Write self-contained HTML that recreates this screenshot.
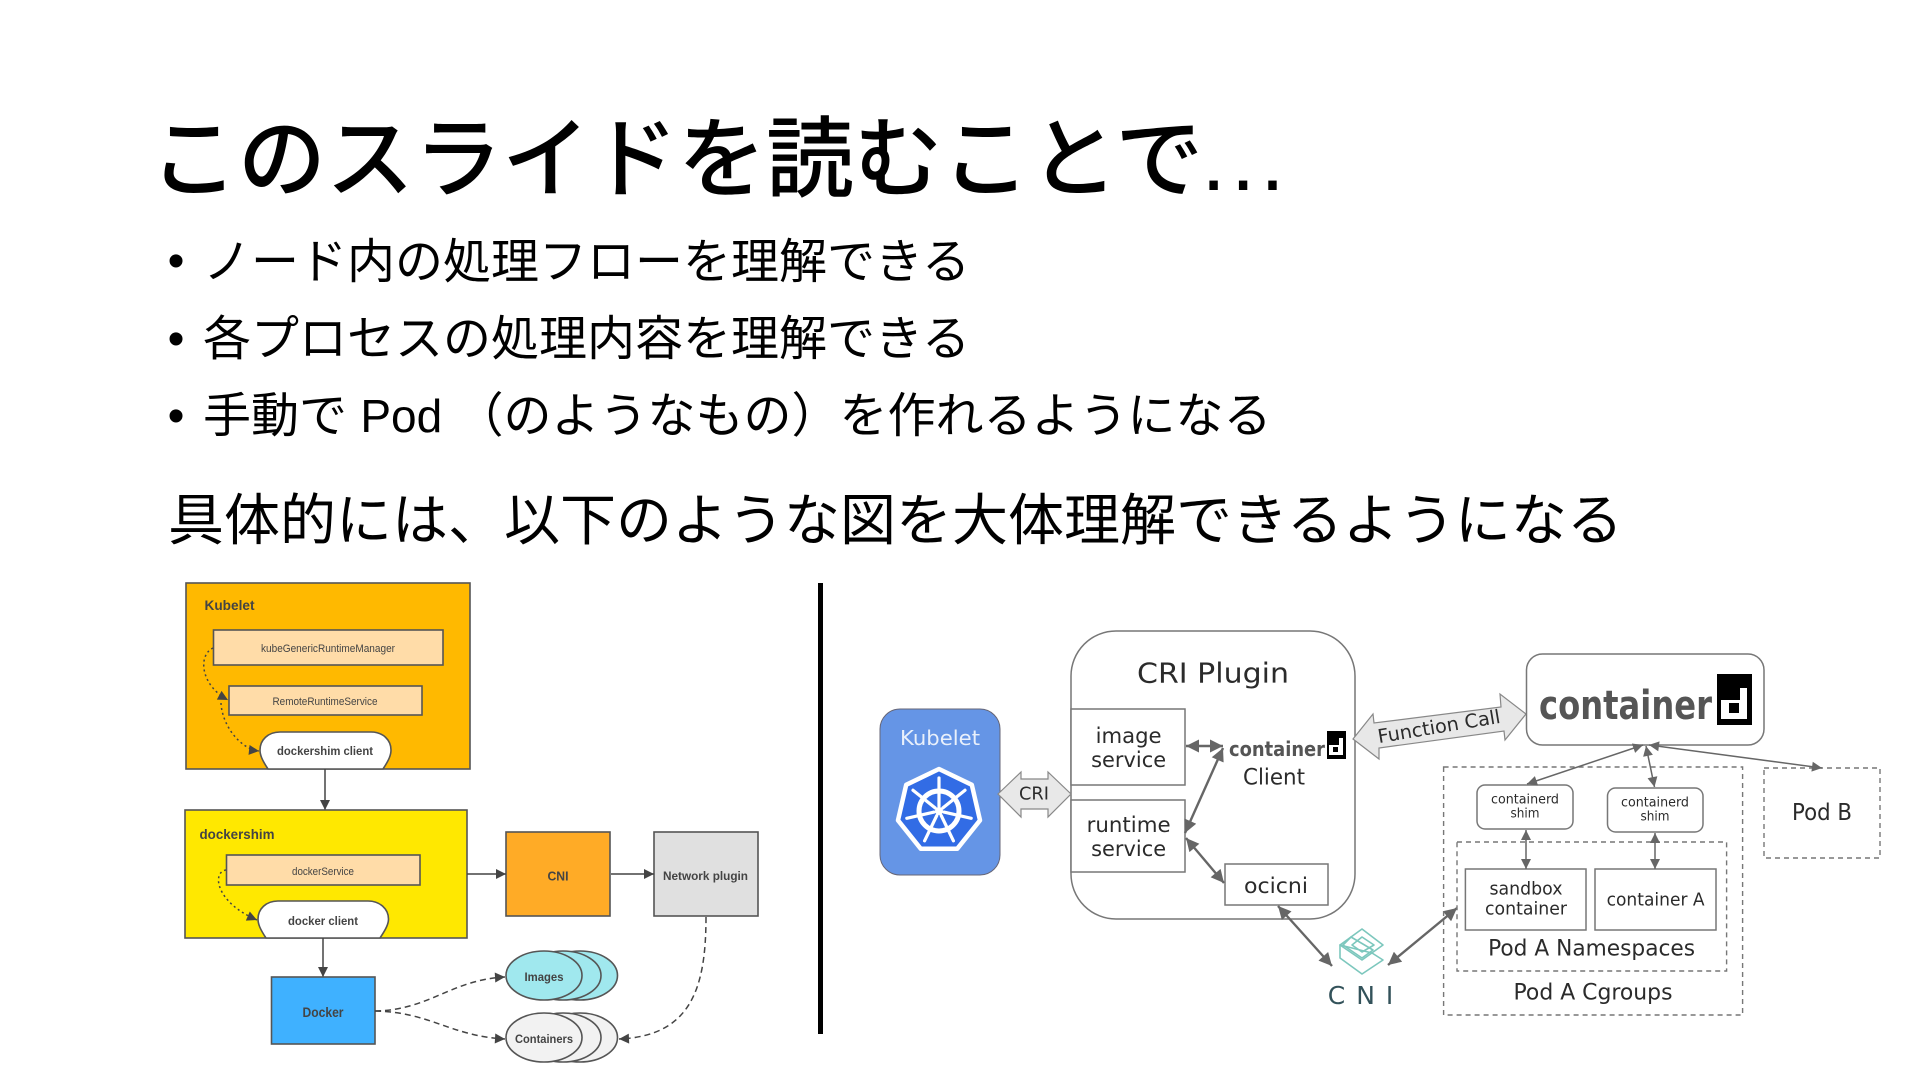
<!DOCTYPE html>
<html lang="ja"><head><meta charset="utf-8"><title>このスライドを読むことで...</title>
<style>
html,body{margin:0;padding:0;background:#fff;width:1920px;height:1080px;overflow:hidden}
svg{display:block}
.jp{font-family:"Liberation Sans","Noto Sans CJK JP",sans-serif;fill:#000}
.l{font-family:"Liberation Sans",sans-serif;font-weight:700;fill:#444;text-anchor:middle;dominant-baseline:central}
.c{font-family:"DejaVu Sans","Liberation Sans",sans-serif;fill:#2b2b2b;text-anchor:middle;dominant-baseline:central}
.b{stroke:#555;stroke-width:1.6}
.g{fill:#fff;stroke:#777;stroke-width:1.5}
.d{fill:none;stroke:#777;stroke-width:1.4;stroke-dasharray:5 4}
.a{fill:none;stroke:#444;stroke-width:1.5}
.ar{fill:none;stroke:#666;stroke-width:2.4}
.thin{fill:none;stroke:#666;stroke-width:1.5}
</style></head><body>
<svg width="1920" height="1080" viewBox="0 0 1920 1080" xmlns="http://www.w3.org/2000/svg">
<defs>
<marker id="m" viewBox="0 0 10 10" refX="10" refY="5" markerUnits="userSpaceOnUse" markerWidth="12" markerHeight="10" orient="auto-start-reverse"><path d="M0 0L10 5L0 10Z" fill="#444"/></marker>
<marker id="g" viewBox="0 0 10 10" refX="10" refY="5" markerUnits="userSpaceOnUse" markerWidth="16" markerHeight="13" orient="auto-start-reverse"><path d="M0 0L10 5L0 10Z" fill="#666"/></marker>
<marker id="t" viewBox="0 0 10 10" refX="10" refY="5" markerUnits="userSpaceOnUse" markerWidth="13" markerHeight="10" orient="auto-start-reverse"><path d="M0 0L10 5L0 10Z" fill="#666"/></marker>
</defs>
<rect width="1920" height="1080" fill="#fff"/>

<!-- headings -->
<text class="jp" x="150" y="190" font-size="88" font-weight="500">このスライドを読むことで<tspan letter-spacing="5" dx="-2">...</tspan></text>
<text x="176" y="277" font-size="48" text-anchor="middle" font-family="Liberation Sans,sans-serif">•</text>
<text x="176" y="355" font-size="48" text-anchor="middle" font-family="Liberation Sans,sans-serif">•</text>
<text x="176" y="432" font-size="48" text-anchor="middle" font-family="Liberation Sans,sans-serif">•</text>
<text class="jp" x="203" y="278" font-size="48">ノード内の処理フローを理解できる</text>
<text class="jp" x="203" y="355" font-size="48">各プロセスの処理内容を理解できる</text>
<text class="jp" x="203" y="432" font-size="48">手動で <tspan font-size="46">Pod</tspan> （のようなもの）を作れるようになる</text>
<text class="jp" x="168" y="540" font-size="56">具体的には、以下のような図を大体理解できるようになる</text>

<!-- left diagram -->
<rect class="b" x="186" y="583" width="284" height="186" fill="#FFB900"/>
<text class="l" x="229.500" y="605" font-size="14" textLength="50" lengthAdjust="spacingAndGlyphs" fill="#5a4300">Kubelet</text>
<rect class="b" x="213.500" y="630" width="229.500" height="35" fill="#FFDCA8"/>
<text class="l" style="font-weight:400" x="328" y="649" font-size="11" textLength="134" lengthAdjust="spacingAndGlyphs">kubeGenericRuntimeManager</text>
<rect class="b" x="229" y="686" width="193" height="29" fill="#FFDCA8"/>
<text class="l" style="font-weight:400" x="325" y="702" font-size="11" textLength="105" lengthAdjust="spacingAndGlyphs">RemoteRuntimeService</text>
<path class="b" fill="#fff" d="M268 769C262 760 260 755 260 750C260 740 268 732 280 732H371C383 732 391 740 391 750C391 755 389 760 383 769Z"/>
<text class="l" x="325" y="751" font-size="12" textLength="96" lengthAdjust="spacingAndGlyphs">dockershim client</text>
<path class="a" stroke-dasharray="2 3" d="M213 648C198 655 200 685 228 700" marker-end="url(#m)"/>
<path class="a" stroke-dasharray="2 3" d="M221 703C222 725 240 749 259 751" marker-end="url(#m)"/>
<path class="a" d="M325 769V810" marker-end="url(#m)"/>

<rect class="b" x="185" y="810" width="282" height="128" fill="#FFE800"/>
<text class="l" x="237" y="834" font-size="14" textLength="75" lengthAdjust="spacingAndGlyphs" fill="#5a4a00">dockershim</text>
<rect class="b" x="226.500" y="855" width="193.500" height="30" fill="#FFDCA8"/>
<text class="l" style="font-weight:400" x="323" y="872" font-size="11" textLength="62" lengthAdjust="spacingAndGlyphs">dockerService</text>
<path class="b" fill="#fff" d="M266 938C260 929 258 924 258 919C258 909 266 901 278 901H368C380 901 388.500 909 388.500 919C388.500 924 386 929 380 938Z"/>
<text class="l" x="323" y="921" font-size="12" textLength="70" lengthAdjust="spacingAndGlyphs">docker client</text>
<path class="a" stroke-dasharray="2 3" d="M226 870C212 872 215 902 257 920" marker-end="url(#m)"/>
<path class="a" d="M323 938V977" marker-end="url(#m)"/>

<rect class="b" x="506" y="832" width="104" height="84" fill="#FFAB26"/>
<text class="l" x="558" y="876" font-size="13" textLength="21" lengthAdjust="spacingAndGlyphs">CNI</text>
<rect class="b" x="654" y="832" width="104" height="84" fill="#E0E0E0"/>
<text class="l" x="705.500" y="876" font-size="12" textLength="85" lengthAdjust="spacingAndGlyphs">Network plugin</text>
<path class="a" d="M467 874H506" marker-end="url(#m)"/>
<path class="a" d="M611 874H654" marker-end="url(#m)"/>

<rect class="b" x="271.500" y="977" width="103.500" height="67" fill="#3FB1FF"/>
<text class="l" x="323" y="1012" font-size="14" textLength="41" lengthAdjust="spacingAndGlyphs" fill="#0f4a78">Docker</text>

<ellipse class="b" cx="580" cy="975.500" rx="37.500" ry="24.500" fill="#A0E8EE"/>
<ellipse class="b" cx="563" cy="975.500" rx="38" ry="24.500" fill="#A0E8EE"/>
<ellipse class="b" cx="544" cy="975.500" rx="38" ry="24.500" fill="#A0E8EE"/>
<text class="l" x="544" y="977" font-size="12" textLength="39" lengthAdjust="spacingAndGlyphs">Images</text>
<ellipse class="b" cx="580" cy="1037.500" rx="37.500" ry="24.500" fill="#F2F2F2"/>
<ellipse class="b" cx="563" cy="1037.500" rx="38" ry="24.500" fill="#F2F2F2"/>
<ellipse class="b" cx="544" cy="1037.500" rx="38" ry="24.500" fill="#F2F2F2"/>
<text class="l" x="544" y="1039" font-size="12" textLength="58" lengthAdjust="spacingAndGlyphs">Containers</text>

<path class="a" stroke-width="1.8" stroke-dasharray="6 4" d="M375 1011C430 1010 450 980 505 977" marker-end="url(#m)"/>
<path class="a" stroke-width="1.8" stroke-dasharray="6 4" d="M375 1011C430 1012 450 1036 505 1039" marker-end="url(#m)"/>
<path class="a" stroke-dasharray="6 4" d="M706 917C706 990 690 1036 619 1039" marker-end="url(#m)"/>

<rect x="818" y="583" width="5" height="451" fill="#000"/>

<!-- right diagram -->
<rect x="880" y="709" width="120" height="166" rx="20" fill="#6595E6" stroke="#667" stroke-width="1"/>
<text x="940" y="738" font-family="DejaVu Sans,sans-serif" font-size="20" fill="#e9f0fb" text-anchor="middle" dominant-baseline="central" textLength="80" lengthAdjust="spacingAndGlyphs">Kubelet</text>
<g transform="translate(939 811)">
<polygon points="0,-42 32.800,-26.200 41,9.300 18.200,37.800 -18.200,37.800 -41,9.300 -32.800,-26.200" fill="#326CE5" stroke="#fff" stroke-width="4.500" stroke-linejoin="round"/>
<circle r="20" fill="none" stroke="#fff" stroke-width="5"/>
<circle r="4" fill="#fff"/>
<g stroke="#fff" stroke-width="3.200" stroke-linecap="round">
<line x1="0" y1="-5" x2="0" y2="-33"/>
<line x1="3.900" y1="-3.100" x2="26" y2="-20.800"/>
<line x1="4.900" y1="1.100" x2="32.200" y2="7.300"/>
<line x1="2.200" y1="4.500" x2="14.400" y2="29.800"/>
<line x1="-2.200" y1="4.500" x2="-14.400" y2="29.800"/>
<line x1="-4.900" y1="1.100" x2="-32.200" y2="7.300"/>
<line x1="-3.900" y1="-3.100" x2="-26" y2="-20.800"/>
</g></g>

<rect class="g" x="1071" y="631" width="284" height="288" rx="45"/>
<text class="c" x="1213" y="673" font-size="28" textLength="152" lengthAdjust="spacingAndGlyphs">CRI Plugin</text>
<rect class="g" x="1071" y="709" width="114" height="76"/>
<text class="c" x="1128.600" y="736" font-size="21" textLength="66" lengthAdjust="spacingAndGlyphs">image</text>
<text class="c" x="1128.600" y="760" font-size="21" textLength="75" lengthAdjust="spacingAndGlyphs">service</text>
<rect class="g" x="1071" y="800" width="114" height="72"/>
<text class="c" x="1128.600" y="825" font-size="21" textLength="84" lengthAdjust="spacingAndGlyphs">runtime</text>
<text class="c" x="1128.600" y="849" font-size="21" textLength="75" lengthAdjust="spacingAndGlyphs">service</text>
<rect class="g" x="1225" y="864" width="103" height="41"/>
<text class="c" x="1276" y="886" font-size="21" textLength="64" lengthAdjust="spacingAndGlyphs">ocicni</text>

<text x="1277" y="756" font-family="DejaVu Sans,sans-serif" font-weight="700" font-size="20" fill="#555" text-anchor="middle" textLength="96" lengthAdjust="spacingAndGlyphs">container</text>
<rect x="1327" y="731" width="19" height="28" fill="#000"/>
<path d="M1329 745h10v-7h4v17h-14z" fill="#fff"/><rect x="1333" y="747" width="5" height="5" fill="#000"/>
<text class="c" x="1274" y="778" font-size="22" textLength="62" lengthAdjust="spacingAndGlyphs">Client</text>

<polygon points="998,794 1021,772 1021,779 1048,779 1048,772 1071,794 1048,817 1048,809 1021,809 1021,817" fill="#E8E8E8" stroke="#888" stroke-width="1.2"/>
<text class="c" x="1034" y="794" font-size="18" textLength="30" lengthAdjust="spacingAndGlyphs">CRI</text>

<path class="ar" d="M1186 746H1223" marker-start="url(#g)" marker-end="url(#g)"/>
<path class="ar" d="M1185 833L1223 748" marker-start="url(#g)" marker-end="url(#g)"/>
<path class="ar" d="M1186 838L1224 883" marker-start="url(#g)" marker-end="url(#g)"/>
<path class="ar" d="M1278 906L1332 966" marker-start="url(#g)" marker-end="url(#g)"/>
<path class="ar" d="M1388 965L1457 908" marker-start="url(#g)" marker-end="url(#g)"/>

<polygon points="1353,739 1373,714 1374,723 1501,707 1500,694 1526,714 1505,740 1504,731 1379,748 1379,759" fill="#E8E8E8" stroke="#888" stroke-width="1.2"/>
<text class="c" x="1439" y="727" font-size="19" transform="rotate(-9.500 1439 727)" textLength="124" lengthAdjust="spacingAndGlyphs">Function Call</text>

<g fill="none" stroke="#7cc7bd" stroke-width="1.6" stroke-linejoin="round">
<polygon points="1362,929 1383,945 1362,960 1340,945"/>
<polygon points="1351,937 1373,950 1362,958 1343,945"/>
<polygon points="1340,945 1340,958 1362,974 1383,960 1372,953"/>
<path d="M1352 945L1362 937L1374 945L1362 952Z"/>
</g>
<text x="1366" y="1004" font-family="DejaVu Sans,sans-serif" font-size="25" fill="#33525a" text-anchor="middle" letter-spacing="11">CNI</text>

<rect class="g" x="1526.500" y="654" width="237.500" height="91" rx="16"/>
<text x="1625.500" y="719" font-family="DejaVu Sans,sans-serif" font-weight="700" font-size="40" fill="#555" text-anchor="middle" textLength="173" lengthAdjust="spacingAndGlyphs">container</text>
<rect x="1717" y="674" width="35" height="51" fill="#000"/>
<path d="M1721 700h19v-12h7v31h-26z" fill="#fff"/><rect x="1729" y="703" width="10" height="10" fill="#000"/>

<rect class="d" x="1443.600" y="767" width="299" height="248"/>
<rect class="d" x="1457" y="842" width="269.600" height="129"/>
<rect class="d" x="1764" y="768" width="116" height="90"/>

<rect class="g" x="1477" y="785" width="96" height="44" rx="8"/>
<text class="c" x="1525" y="800" font-size="13" textLength="68" lengthAdjust="spacingAndGlyphs">containerd</text>
<text class="c" x="1525" y="814" font-size="13" textLength="29" lengthAdjust="spacingAndGlyphs">shim</text>
<rect class="g" x="1607.500" y="788" width="95.500" height="44" rx="8"/>
<text class="c" x="1655" y="803" font-size="13" textLength="68" lengthAdjust="spacingAndGlyphs">containerd</text>
<text class="c" x="1655" y="817" font-size="13" textLength="29" lengthAdjust="spacingAndGlyphs">shim</text>

<rect class="g" x="1465.400" y="869" width="120.600" height="61"/>
<text class="c" x="1526" y="889" font-size="18" textLength="73" lengthAdjust="spacingAndGlyphs">sandbox</text>
<text class="c" x="1526" y="909" font-size="18" textLength="82" lengthAdjust="spacingAndGlyphs">container</text>
<rect class="g" x="1595" y="869" width="121" height="61"/>
<text class="c" x="1655.600" y="900" font-size="18" textLength="98" lengthAdjust="spacingAndGlyphs">container A</text>
<text class="c" x="1591.600" y="949" font-size="22" textLength="207" lengthAdjust="spacingAndGlyphs">Pod A Namespaces</text>
<text class="c" x="1593" y="993" font-size="22" textLength="159" lengthAdjust="spacingAndGlyphs">Pod A Cgroups</text>
<text class="c" x="1822" y="813" font-size="23" textLength="60" lengthAdjust="spacingAndGlyphs">Pod B</text>

<path class="thin" d="M1527 784L1643 745" marker-start="url(#t)" marker-end="url(#t)"/>
<path class="thin" d="M1646 746L1654.500 787" marker-start="url(#t)" marker-end="url(#t)"/>
<path class="thin" d="M1649 745L1822 768" marker-start="url(#t)" marker-end="url(#t)"/>
<path class="thin" d="M1526 830V869" marker-start="url(#t)" marker-end="url(#t)"/>
<path class="thin" d="M1655 833V869" marker-start="url(#t)" marker-end="url(#t)"/>
</svg>
</body></html>
